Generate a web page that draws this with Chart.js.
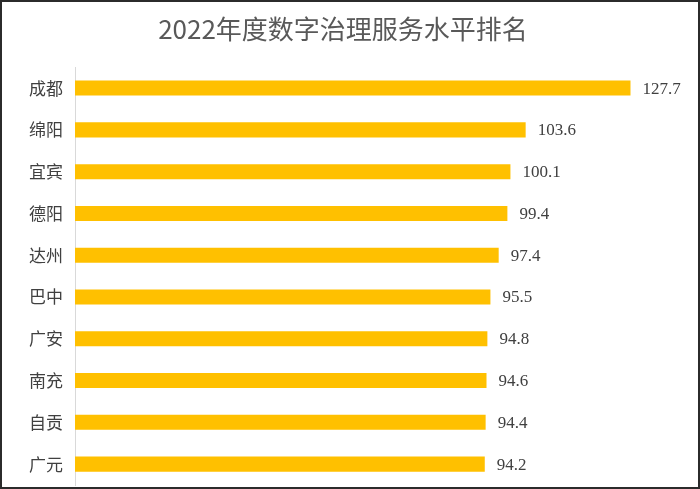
<!DOCTYPE html>
<html>
<head>
<meta charset="utf-8">
<script src="https://cdn.jsdelivr.net/npm/chart.js@4"></script>
<style>
    html, body { margin: 0; padding: 0; background: #fff; }
    #wrap {
        width: 700px;
        height: 489px;
        box-sizing: border-box;
        border: 2px solid #2b2b2b;
        background: #fff;
    }
</style>
</head>
<body>
<div id="wrap"><canvas id="rankChart" width="696" height="485"></canvas></div>
<script>
const titleText = '2022年度数字治理服务水平排名';
const cities = ['成都', '绵阳', '宜宾', '德阳', '达州', '巴中', '广安', '南充', '自贡', '广元'];
const scores = [127.7, 103.6, 100.1, 99.4, 97.4, 95.5, 94.8, 94.6, 94.4, 94.2];
const axisMax = 140;

// valores ao lado das barras
const valueLabels = {
    id: 'valueLabels',
    afterDatasetsDraw(chart) {
        const ctx = chart.ctx;
        const meta = chart.getDatasetMeta(0);
        ctx.save();
        ctx.font = '17px "Liberation Serif", "DejaVu Serif", serif';
        ctx.fillStyle = '#404040';
        ctx.textAlign = 'left';
        ctx.textBaseline = 'middle';
        meta.data.forEach((bar, i) => {
            ctx.fillText(scores[i].toFixed(1), bar.x + 12, bar.y + 1);
        });
        ctx.restore();
    }
};

const ctx = document.getElementById('rankChart').getContext('2d');
new Chart(ctx, {
    type: 'bar',
    data: {
        labels: cities,
        datasets: [{
            data: scores,
            backgroundColor: '#FFC000',
            borderWidth: 0,
            barPercentage: 0.36,
            categoryPercentage: 1
        }]
    },
    options: {
        indexAxis: 'y',
        responsive: false,
        animation: false,
        layout: { padding: { left: 0, right: 14, top: 0, bottom: 2 } },
        plugins: {
            legend: { display: false },
            tooltip: { enabled: false },
            title: {
                display: true,
                text: titleText,
                color: '#595959',
                font: { family: '"Noto Sans CJK SC", "Noto Sans", sans-serif', size: 26, weight: 'normal' },
                padding: { top: 12, bottom: 22 }
            }
        },
        scales: {
            x: {
                display: false,
                min: 0,
                max: axisMax
            },
            y: {
                grid: { display: false },
                border: { display: true, color: '#d9d9d9', width: 1 },
                ticks: {
                    color: '#404040',
                    padding: 4,
                    font: { family: '"Noto Sans CJK SC", sans-serif', size: 17 }
                },
                afterFit(axis) {
                    axis.width = 73;
                    axis.paddingTop = 0;
                    axis.paddingBottom = 0;
                }
            }
        }
    },
    plugins: [valueLabels]
});
</script>
</body>
</html>
